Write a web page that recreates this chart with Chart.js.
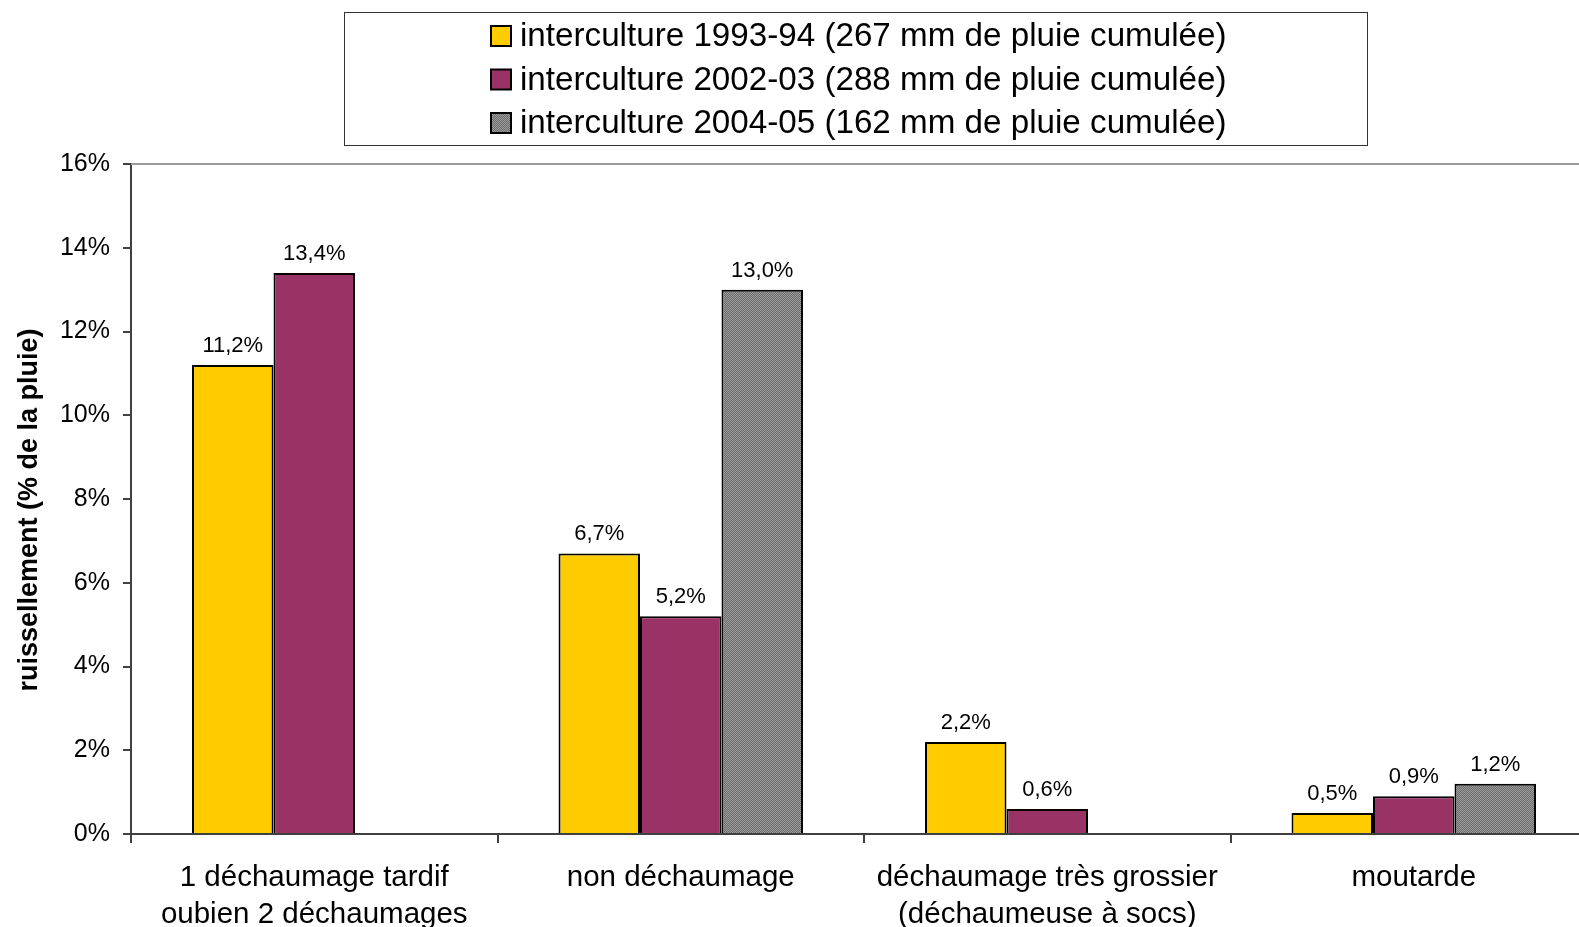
<!DOCTYPE html>
<html>
<head>
<meta charset="utf-8">
<script src="https://cdn.jsdelivr.net/npm/chart.js@4.4.1/dist/chart.umd.min.js"></script>
<style>
html,body{margin:0;padding:0;background:#fff;overflow:hidden;width:1579px;height:927px;}
canvas{display:block;}
</style>
</head>
<body>
<canvas id="c" width="1600" height="927"></canvas>
<script>
// ---- data ----
const categories = [
  ["1 déchaumage tardif", "oubien 2 déchaumages"],
  "non déchaumage",
  ["déchaumage très grossier", "(déchaumeuse à socs)"],
  "moutarde"
];
const seriesLabels = [
  "interculture 1993-94 (267 mm de pluie cumulée)",
  "interculture 2002-03 (288 mm de pluie cumulée)",
  "interculture 2004-05 (162 mm de pluie cumulée)"
];
const values1993 = [11.2, 6.7, 2.2, 0.5];
const values2002 = [13.4, 5.2, 0.6, 0.9];
const values2004 = [null, 13.0, null, 1.2];
const yTicks = [0, 2, 4, 6, 8, 10, 12, 14, 16];
const yTitle = "ruissellement (% de la pluie)";

// grey dotted pattern
function makePattern() {
  const p = document.createElement('canvas');
  p.width = 2; p.height = 2;
  const g = p.getContext('2d');
  g.fillStyle = '#6c6c6c'; g.fillRect(0, 0, 2, 2);
  g.fillStyle = '#9c9c9c'; g.fillRect(0, 0, 1, 1); g.fillRect(1, 1, 1, 1);
  return g.createPattern(p, 'repeat');
}
const ctx = document.getElementById('c').getContext('2d');
const greyPattern = makePattern();
const colors = ['#FFCC00', '#993366', greyPattern];
const FONT = '"Liberation Sans", Arial, sans-serif';

const fmt = v => v.toFixed(1).replace('.', ',') + '%';

const dataLabelPlugin = {
  id: 'dataLabels',
  afterDatasetsDraw(chart) {
    const c = chart.ctx;
    c.save();
    c.font = '22px ' + FONT;
    c.fillStyle = '#000';
    c.textAlign = 'center';
    c.textBaseline = 'alphabetic';
    chart.data.datasets.forEach((ds, di) => {
      const meta = chart.getDatasetMeta(di);
      meta.data.forEach((el, i) => {
        const v = ds.data[i];
        if (v === null || v === undefined) return;
        c.fillText(fmt(v), el.x, el.y - 13);
      });
    });
    c.restore();
  }
};

const frameLegendPlugin = {
  id: 'frameLegend',
  afterDraw(chart) {
    const c = chart.ctx;
    const a = chart.chartArea;
    c.save();
    // top border of plot area
    c.strokeStyle = '#9a9a9a';
    c.lineWidth = 2;
    c.beginPath();
    c.moveTo(a.left, a.top);
    c.lineTo(a.right, a.top);
    c.stroke();
    // y axis title
    c.save();
    c.translate(30, 510);
    c.rotate(-Math.PI / 2);
    c.font = 'bold 27px ' + FONT;
    c.fillStyle = '#000';
    c.textAlign = 'center';
    c.textBaseline = 'middle';
    c.fillText(yTitle, 0, 0);
    c.restore();
    // legend box
    c.strokeStyle = '#333';
    c.lineWidth = 1;
    c.strokeRect(344.5, 12.5, 1023, 133);
    c.font = '33.2px ' + FONT;
    c.textAlign = 'left';
    c.textBaseline = 'middle';
    chart.data.datasets.forEach((ds, i) => {
      const cy = 36 + i * 43.5;
      c.fillStyle = ds.backgroundColor;
      c.fillRect(491, cy - 10, 20, 20);
      c.strokeStyle = '#000';
      c.lineWidth = 2;
      c.strokeRect(491, cy - 10, 20, 20);
      c.fillStyle = '#000';
      c.fillText(ds.label, 520, cy + 1);
    });
    c.restore();
  }
};

const chart = new Chart(ctx, {
  type: 'bar',
  data: {
    labels: categories,
    datasets: [
      { label: seriesLabels[0], data: values1993, backgroundColor: colors[0], borderColor: '#000', borderWidth: 2 },
      { label: seriesLabels[1], data: values2002, backgroundColor: colors[1], borderColor: '#000', borderWidth: 2 },
      { label: seriesLabels[2], data: values2004, backgroundColor: colors[2], borderColor: '#000', borderWidth: 2 }
    ]
  },
  options: {
    responsive: false,
    animation: false,
    devicePixelRatio: 1,
    layout: { padding: { top: 164, left: 0, right: 3, bottom: 0 } },
    datasets: { bar: { barPercentage: 1, categoryPercentage: 0.667 } },
    plugins: { legend: { display: false }, tooltip: { enabled: false } },
    scales: {
      x: {
        grid: { display: true, offset: true, drawOnChartArea: false, drawTicks: true, tickLength: 9, color: '#404040', lineWidth: 2 },
        border: { display: true, color: '#404040', width: 2 },
        ticks: { color: '#000', font: { family: FONT, size: 29.5, lineHeight: 1.24 }, padding: 17, maxRotation: 0, autoSkip: false },
        afterFit(s) { s.height = 93; }
      },
      y: {
        min: 0, max: 16,
        afterBuildTicks(s) { s.ticks = yTicks.map(v => ({ value: v })); },
        grid: { display: true, drawOnChartArea: false, drawTicks: true, tickLength: 8, color: '#404040', lineWidth: 2 },
        border: { display: true, color: '#404040', width: 2 },
        ticks: { color: '#000', font: { family: FONT, size: 25 }, padding: 13, callback: v => v + '%' },
        title: { display: false },
        afterFit(s) { s.width = 131; }
      }
    }
  },
  plugins: [dataLabelPlugin, frameLegendPlugin]
});
</script>
</body>
</html>
